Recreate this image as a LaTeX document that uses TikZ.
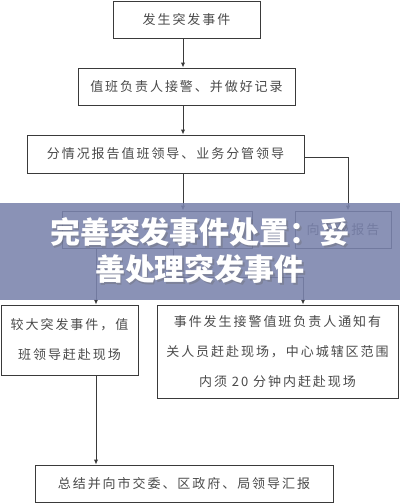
\documentclass[tikz,border=0pt]{standalone}
\usepackage{fontspec}
\usetikzlibrary{arrows.meta}
\newfontfamily\cjk[LetterSpace=15]{Noto Sans CJK SC}
\newfontfamily\bannerfont{Noto Sans CJK SC}
\definecolor{linec}{HTML}{3A3A3A}
\definecolor{textc}{HTML}{4A4A4A}
\definecolor{bannerc}{RGB}{122,131,173}
\begin{document}
\begin{tikzpicture}[x=1pt,y=-1pt,
  box/.style={draw=linec,line width=1pt,inner sep=0pt,text=textc,
    font=\cjk\fontsize{13}{30}\selectfont,align=center},
  arr/.style={draw=linec,line width=1pt,-{Latex[length=5pt,width=4.5pt]}},
  ln/.style={draw=linec,line width=1pt}]
\fill[white] (0,0) rectangle (400,504);
\useasboundingbox (0,0) rectangle (400,504);
% boxes
\node[box,minimum width=147pt,minimum height=37pt] (b1) at (186.5,19.5) {发生突发事件};
\node[box,minimum width=217pt,minimum height=37pt] (b2) at (186.5,86.5) {值班负责人接警、并做好记录};
\node[box,minimum width=277pt,minimum height=38pt] (b3) at (165.5,154) {分情况报告值班领导、业务分管领导};
\node[box,minimum width=190pt,minimum height=37pt] (mid) at (157,229.5) {};
\node[box,minimum width=96pt,minimum height=37pt] (rep) at (343,229.5) {向上级报告};
\node[box,minimum width=137pt,minimum height=70pt] (b4) at (69.5,340) {较大突发事件，值\\班领导赶赴现场};
\node[box,minimum width=241pt,minimum height=93pt] (b5) at (277.5,351.5) {事件发生接警值班负责人通知有\\关人员赶赴现场，中心城辖区范围\\内须 20 分钟内赶赴现场};
\node[box,minimum width=298pt,minimum height=37pt] (b6) at (184,483.5) {总结并向市交委、区政府、局领导汇报};
% helper coordinates
\coordinate (cx) at (183,0);
\coordinate (lx) at (96,0);
\coordinate (rx) at (303,0);
\coordinate (jn) at (173,277);
% connectors
\draw[arr] (b1.south -| cx) -- (b2.north -| cx);
\draw[arr] (b2.south -| cx) -- (b3.north -| cx);
\draw[arr] (b3.south -| cx) -- (mid.north -| cx);
\draw[arr] ([yshift=-3pt]b3.east) -| ([xshift=5pt]rep.north);
\draw[arr] (mid.south -| lx) -- (b4.north -| lx);
\draw[arr] (mid.south -| jn) -- (jn) -| (b5.north -| rx);
\draw[arr] (b4.south -| lx) -- (b6.north -| lx);
% banner
\fill[bannerc,opacity=0.88] (0,203) rectangle (400,300);
\node[text=black!60,opacity=0.35,align=center,font=\bannerfont\bfseries\fontsize{30}{37}\selectfont] at (201.2,252.2) {完善突发事件处置：妥\\善处理突发事件};
\node[text=white,align=center,font=\bannerfont\bfseries\fontsize{30}{37}\selectfont] (ban) at (200,251) {完善突发事件处置：妥\\善处理突发事件};
\end{tikzpicture}
\end{document}
